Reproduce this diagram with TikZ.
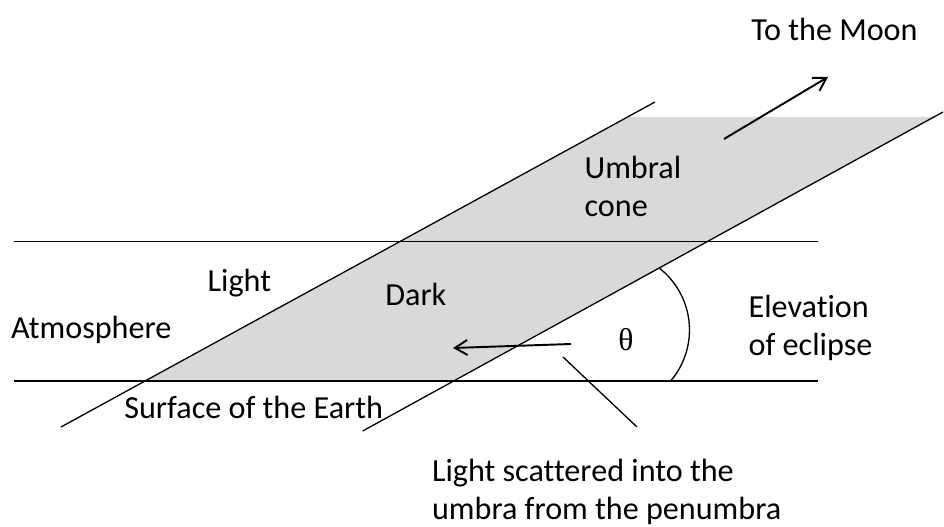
\documentclass[tikz,border=0pt]{standalone}
\usepackage{fontspec}
\setmainfont{Carlito}[Ligatures=CommonOff]
\newfontfamily\greekfont{Liberation Serif}
\usetikzlibrary{arrows.meta}
\definecolor{umbragray}{RGB}{217,217,217}
\tikzset{
  edge/.style={line width=0.75pt},
  ray/.style={line width=1.1pt,-{Straight Barb[length=2.5mm,width=3mm]}},
  lab/.style={font=\fontsize{18.3}{21.8}\selectfont,inner sep=0pt,anchor=base west,align=left},
}
\begin{document}
\begin{tikzpicture}[x=0.02cm,y=0.02cm]
  \useasboundingbox (0,0) rectangle (944,527);
  % umbral cone
  \fill[umbragray] (146.7,146) -- (451.7,146) -- (933.5,410) -- (628.5,410) -- cycle;
  % atmosphere and shadow edges
  \draw[edge] (14,285.3) -- (818,285.3);
  \draw[edge] (14,146) -- (818,146);
  \draw[edge] (61,100) -- (655,425);
  \draw[edge] (362.7,96) -- (943,415);
  % elevation angle
  \draw[edge] (611,197) ++(51.7:78.5) arc[start angle=51.7,end angle=-40.8,radius=78.5];
  \node[font=\greekfont\fontsize{18}{20}\selectfont,inner sep=0pt] (theta) at (626,187) {θ};
  % arrows
  \coordinate (moonA) at (724,388);
  \coordinate (moonB) at (828,450);
  \draw[ray] (moonA) -- (moonB);
  \coordinate (scatA) at (571,183);
  \coordinate (scatB) at (453,179);
  \draw[ray] (scatA) -- (scatB);
  \coordinate (ptrA) at (563,170);
  \coordinate (ptrB) at (637,100);
  \draw[edge] (ptrA) -- (ptrB);
  % labels (base = last line)
  \node[lab] (moon) at (751,486.3) {To the Moon};
  \node[lab] (umbral) at (584.3,310.3) {Umbral\\cone};
  \node[lab] (light) at (207.3,235.3) {Light};
  \node[lab] (dark) at (385,221) {Dark};
  \node[lab] (atmos) at (10.7,188.7) {Atmosphere};
  \node[lab] (surface) at (124,108.7) {Surface of the Earth};
  \node[lab] (elev) at (748.3,171) {Elevation\\of eclipse};
  \node[lab] (scatter) at (431.7,7.5) {Light scattered into the\\umbra from the penumbra};
\end{tikzpicture}
\end{document}
